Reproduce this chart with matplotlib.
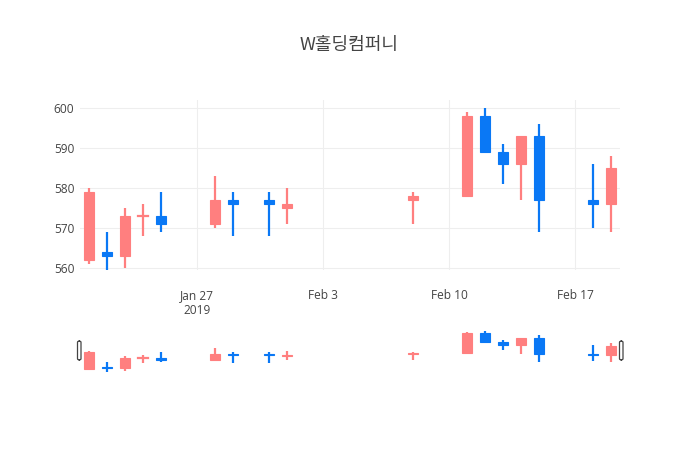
import matplotlib
matplotlib.use("Agg")
import matplotlib.pyplot as plt
import matplotlib.dates as mdates
from matplotlib.patches import FancyBboxPatch
import numpy as np
import datetime as dt

title = "W홀딩컴퍼니"
dates = ["2019-01-21", "2019-01-22", "2019-01-23", "2019-01-24", "2019-01-25",
         "2019-01-28", "2019-01-29", "2019-01-31", "2019-02-01", "2019-02-08",
         "2019-02-11", "2019-02-12", "2019-02-13", "2019-02-14", "2019-02-15",
         "2019-02-18", "2019-02-19"]
open_ = [562, 564, 563, 573, 573, 571, 577, 577, 575, 577, 578, 598, 589, 586, 593, 577, 576]
high = [580, 569, 575, 576, 579, 583, 579, 579, 580, 579, 599, 600, 591, 593, 596, 586, 588]
low = [561, 559, 560, 568, 569, 570, 568, 568, 571, 571, 578, 589, 581, 577, 569, 570, 569]
close = [579, 563, 573, 573, 571, 577, 576, 576, 576, 578, 598, 589, 586, 593, 577, 576, 585]
# Rising (close >= open) candles are pink, falling candles are blue
up_color = "#FF7F7F"
down_color = "#0A78F5"
x_ticks = ["2019-01-27", "2019-02-03", "2019-02-10", "2019-02-17"]
x_tick_labels = ["Jan 27\n2019", "Feb 3", "Feb 10", "Feb 17"]
y_ticks = [560, 570, 580, 590, 600]

W, H = 700, 450
fig = plt.figure(figsize=(W / 100, H / 100), dpi=100)
fig.patch.set_facecolor("white")

def rect(l, t, r, b):
    return [l / W, 1 - b / H, (r - l) / W, (b - t) / H]

ax = fig.add_axes(rect(80, 100, 620, 270))
axs = fig.add_axes(rect(80, 325, 620, 375))

xd = mdates.date2num([dt.datetime.strptime(d, "%Y-%m-%d") for d in dates])
xmin = mdates.date2num(dt.datetime(2019, 1, 20, 12))
xmax = mdates.date2num(dt.datetime(2019, 2, 19, 12))
body_w = 0.6

def draw(a, wick_lw, min_h):
    for x, o, h, l, c in zip(xd, open_, high, low, close):
        col = up_color if c >= o else down_color
        a.plot([x, x], [l, h], color=col, lw=wick_lw, solid_capstyle="butt", zorder=3)
        bot = min(o, c)
        hgt = abs(c - o)
        if hgt < min_h:
            a.plot([x - body_w / 2, x + body_w / 2], [o, o], color=col, lw=wick_lw, zorder=3)
        else:
            a.bar(x, hgt, bottom=bot, width=body_w, color=col, edgecolor=col, lw=0.8, zorder=4)

draw(ax, 1.6, 0.3)
draw(axs, 1.6, 0.3)

for a in (ax, axs):
    a.set_xlim(xmin, xmax)
    for s in a.spines.values():
        s.set_visible(False)
    a.set_facecolor("white")

ax.set_ylim(559.5, 602)
ax.set_yticks(y_ticks)
ax.set_yticklabels([str(v) for v in y_ticks])
tick_x = mdates.date2num([dt.datetime.strptime(d, "%Y-%m-%d") for d in x_ticks])
ax.set_xticks(tick_x)
ax.set_xticklabels(x_tick_labels, linespacing=1.15)
ax.grid(True, color="#eeeeee", lw=0.8, zorder=0)
ax.set_axisbelow(True)
ax.tick_params(length=0, labelsize=8.6, colors="#444444", pad=4)
ax.tick_params(axis="x", pad=14)
for lab in ax.get_xticklabels() + ax.get_yticklabels():
    lab.set_family(["Open Sans", "DejaVu Sans"])
    lab.set_color("#444444")

axs.set_ylim(555.7, 605.7)
axs.set_xticks([])
axs.set_yticks([])

# range slider handles
for hx in (77.5, 619.5):
    p = FancyBboxPatch(((hx) / W, 1 - 360 / H), 3.5 / W, 19 / H,
                       boxstyle="round,pad=0,rounding_size=0.003",
                       transform=fig.transFigure, facecolor="white",
                       edgecolor="#444444", lw=0.9, zorder=10)
    fig.patches.append(p)

fig.text(349 / W, 1 - 45 / H, title, ha="center", va="center", fontsize=13,
         color="#444444", family=["Noto Sans CJK KR", "DejaVu Sans"])

fig.savefig("out.png", dpi=100, facecolor="white")
